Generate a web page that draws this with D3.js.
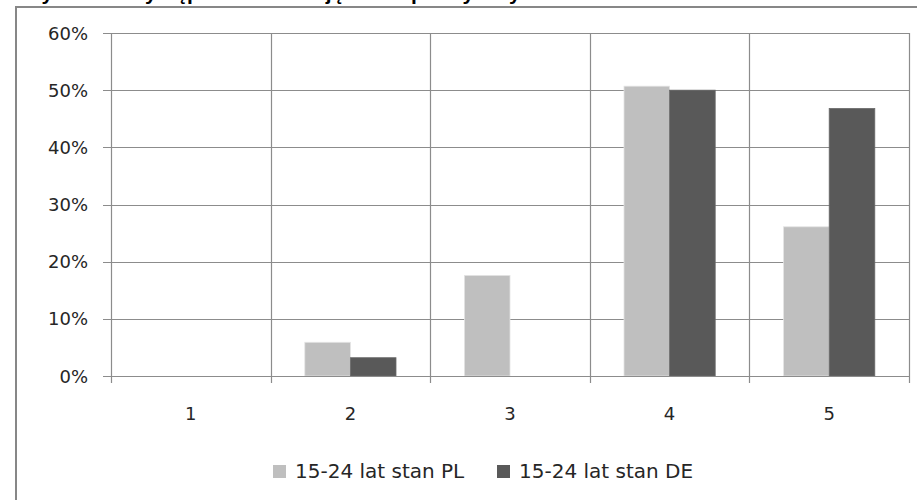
<!DOCTYPE html>
<html><head><meta charset="utf-8">
<script src="https://cdn.jsdelivr.net/npm/d3@7"></script>
<style>body{margin:0;background:#fff;}svg{display:block;}</style>
</head><body>
<svg id="c" width="917" height="500"></svg>
<script>
const categories = ["1","2","3","4","5"];
const seriesNames = ["15-24 lat stan PL","15-24 lat stan DE"];
const valuesPL = [0, 0.059, 0.176, 0.507, 0.261];
const valuesDE = [0, 0.032, 0, 0.500, 0.468];
const yTicks = [0, 0.1, 0.2, 0.3, 0.4, 0.5, 0.6];
const colors = ["#BFBFBF", "#595959"];
const titleText = "Wykres 7. Występowanie umiejętności praktycznych w Polsce i Niemczech";

const svg = d3.select("#c");
const font = "DejaVu Sans, sans-serif";
const x0 = 111, x1 = 909, yTop = 33, yBot = 376;

// cut-off title (only its lowest part is visible, as in the reference)
svg.append("text").attr("x", 22).attr("y", -0.5).attr("font-family", "Liberation Sans, sans-serif")
  .attr("font-weight", "bold").attr("font-size", 21).attr("fill", "#000").text(titleText);
// outer frame
svg.append("line").attr("x1", 16).attr("x2", 917).attr("y1", 7).attr("y2", 7).attr("stroke", "#878787").attr("stroke-width", 2);
svg.append("line").attr("x1", 16).attr("x2", 16).attr("y1", 6).attr("y2", 500).attr("stroke", "#878787").attr("stroke-width", 2);

const x = d3.scaleBand().domain(categories).range([x0, x1]).paddingInner(0).paddingOuter(0);
const y = d3.scaleLinear().domain([0, 0.6]).range([yBot, yTop]);
const gap = 1.5;
const bw = x.bandwidth() / (2 + gap);
const xs = d3.scaleBand().domain(seriesNames).range([bw * gap / 2, bw * gap / 2 + 2 * bw]);

const grid = "#8c8c8c";
svg.append("g").selectAll("line").data(yTicks).join("line")
  .attr("x1", x0 - 8).attr("x2", x1).attr("y1", d => Math.round(y(d)) + 0.5).attr("y2", d => Math.round(y(d)) + 0.5)
  .attr("stroke", grid).attr("stroke-width", 1.2);
const bounds = categories.map(c => x(c)).concat([x1]);
svg.append("g").selectAll("line").data(bounds).join("line")
  .attr("x1", d => Math.round(d) + 0.5).attr("x2", d => Math.round(d) + 0.5)
  .attr("y1", yTop).attr("y2", yBot + 7)
  .attr("stroke", grid).attr("stroke-width", 1.2);

svg.append("g").selectAll("text").data(yTicks).join("text")
  .attr("x", 88).attr("y", d => y(d) + 6.5).attr("text-anchor", "end")
  .attr("font-family", font).attr("font-size", 18).attr("fill", "#262626")
  .text(d => d3.format(".0%")(d));

const data = [];
categories.forEach((c, i) => {
  data.push({c, s: seriesNames[0], v: valuesPL[i], col: colors[0]});
  data.push({c, s: seriesNames[1], v: valuesDE[i], col: colors[1]});
});
svg.append("g").selectAll("rect").data(data.filter(d => d.v > 0)).join("rect")
  .attr("x", d => x(d.c) + xs(d.s)).attr("width", bw)
  .attr("y", d => y(d.v)).attr("height", d => yBot - y(d.v))
  .attr("fill", d => d.col).attr("stroke", d => d.s === seriesNames[0] ? "#e4e4e4" : "#6a6a6a").attr("stroke-width", 0.8);

svg.append("line").attr("x1", x0 - 8).attr("x2", x1).attr("y1", yBot + 0.5).attr("y2", yBot + 0.5).attr("stroke", grid).attr("stroke-width", 1.2);

svg.append("g").selectAll("text").data(categories).join("text")
  .attr("x", d => x(d) + x.bandwidth() / 2).attr("y", 420).attr("text-anchor", "middle")
  .attr("font-family", font).attr("font-size", 18).attr("fill", "#262626").text(d => d);

const legX = [273, 497];
const lg = svg.append("g").selectAll("g").data(seriesNames).join("g")
  .attr("transform", (d, i) => `translate(${legX[i]},0)`);
lg.append("rect").attr("x", 0).attr("y", 465).attr("width", 13).attr("height", 13).attr("fill", (d, i) => colors[i]);
lg.append("text").attr("x", 22).attr("y", 478).attr("font-family", font).attr("font-size", 20).attr("fill", "#262626").text(d => d);
</script>
</body></html>
